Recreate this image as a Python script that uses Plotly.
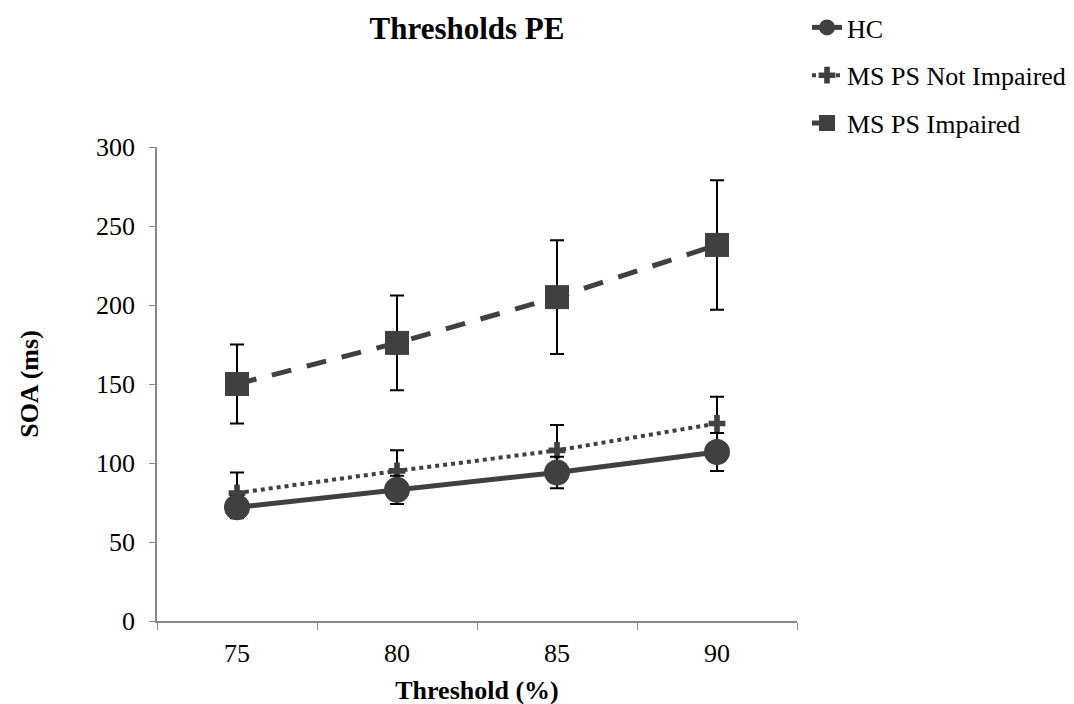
import plotly.graph_objects as go

thresholds = ["75", "80", "85", "90"]
hc = [72, 83, 94, 107]
hc_err = [7, 9, 10, 12]
ms_not = [81, 95, 108, 125]
ms_not_err = [13, 13, 16, 17]
ms_imp = [150, 176, 205, 238]
ms_imp_err = [25, 30, 36, 41]

dark = "#404040"
font_family = "Liberation Serif, Times New Roman, serif"

fig = go.Figure()

fig.add_trace(go.Scatter(
    x=thresholds, y=ms_imp, name="MS PS Impaired", legendgroup="c", legendrank=3,
    mode="lines+markers",
    line=dict(color=dark, width=5, dash="20px,16px"),
    marker=dict(symbol="square", size=24, color=dark),
    error_y=dict(type="data", array=ms_imp_err, color="black", thickness=2, width=7),
))
fig.add_trace(go.Scatter(
    x=thresholds, y=ms_not, name="MS PS Not Impaired", legendgroup="b", legendrank=2,
    mode="lines+markers",
    line=dict(color=dark, width=4, dash="dot"),
    marker=dict(symbol="cross", size=14, color=dark),
    error_y=dict(type="data", array=ms_not_err, color="black", thickness=2, width=7),
))
fig.add_trace(go.Scatter(
    x=thresholds, y=hc, name="HC", legendgroup="a", legendrank=1,
    mode="lines+markers",
    line=dict(color=dark, width=5),
    marker=dict(symbol="circle", size=26, color=dark),
    error_y=dict(type="data", array=hc_err, color="black", thickness=2, width=7),
))

fig.update_layout(
    width=1074, height=704,
    paper_bgcolor="white", plot_bgcolor="white",
    margin=dict(l=149, r=285, t=139, b=91, autoexpand=False),
    font=dict(family=font_family, size=26, color="black"),
    title=dict(text="<b>Thresholds PE</b>", x=(459 / 1074), xanchor="center",
               y=1 - 20 / 704, yanchor="middle", font=dict(size=31)),
    legend=dict(x=(799 - 149) / 640, y=(613 + 4) / 474, xanchor="left", yanchor="top",
                tracegroupgap=11, font=dict(size=26), bgcolor="rgba(0,0,0,0)"),
    showlegend=True,
)

fig.update_xaxes(
    type="category", range=[-0.5, 3.5], tickson="boundaries", ticks="outside", ticklen=7,
    tickcolor="#888", showline=True, linecolor="#888", linewidth=1.5,
    showgrid=False, zeroline=False, automargin=False, ticklabelstandoff=8,
    title=dict(text="<b>Threshold (%)</b>", font=dict(size=26), standoff=14),
)
fig.update_yaxes(
    range=[0, 300], tickvals=[0, 50, 100, 150, 200, 250, 300], ticks="outside",
    ticklen=6, tickcolor="#888", showline=True, linecolor="#888", linewidth=1.5,
    showgrid=False, zeroline=False, automargin=False, ticklabelstandoff=9,
    title=dict(text="<b>SOA (ms)</b>", font=dict(size=26), standoff=50),
)

fig.write_html("out.html")
